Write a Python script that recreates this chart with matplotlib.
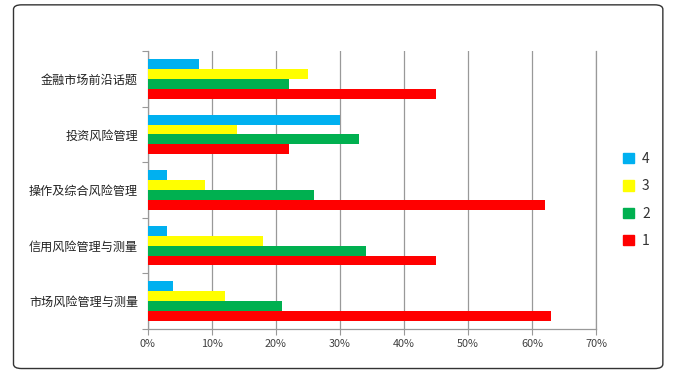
import numpy as np
import matplotlib.pyplot as plt
from matplotlib.patches import FancyBboxPatch, Patch
from matplotlib.ticker import FuncFormatter

plt.rcParams['font.family'] = ['Noto Sans CJK SC', 'DejaVu Sans']

# --- Data ---
categories = ['金融市场前沿话题', '投资风险管理', '操作及综合风险管理',
              '信用风险管理与测量', '市场风险管理与测量']
series_names = ['4', '3', '2', '1']
s4 = [8, 30, 3, 3, 4]
s3 = [25, 14, 9, 18, 12]
s2 = [22, 33, 26, 34, 21]
s1 = [45, 22, 62, 45, 63]
colors = ['#00b0f0', '#ffff00', '#00b050', '#ff0000']
x_ticks = [0, 10, 20, 30, 40, 50, 60, 70]

# --- Plot ---
fig = plt.figure(figsize=(6.75, 3.73), dpi=100)
ax = fig.add_axes([0.219, 0.118, 0.664, 0.745])

n = len(categories)
pos = np.arange(n)
bar_h = 0.178
values = [s4, s3, s2, s1]
for i, (vals, col) in enumerate(zip(values, colors)):
    offset = (i - 1.5) * bar_h
    ax.barh(pos + offset, vals, height=bar_h, color=col, zorder=3)

ax.set_ylim(n - 0.5, -0.5)
ax.set_xlim(0, 70)
ax.set_xticks(x_ticks)
ax.xaxis.set_major_formatter(FuncFormatter(lambda v, p: f'{v:.0f}%'))
ax.tick_params(axis='x', labelsize=7.8, colors='#404040', length=4,
               width=0.8, color='#999999', pad=3)

# category labels centred, ticks at boundaries
ax.set_yticks(pos)
ax.set_yticklabels(categories, fontsize=8.7, color='#222222')
ax.set_yticks(np.arange(n + 1) - 0.5, minor=True)
ax.tick_params(axis='y', which='major', length=0, pad=7)
ax.tick_params(axis='y', which='minor', length=4, width=0.8, color='#999999')

ax.grid(axis='x', color='#999999', linewidth=0.9, zorder=0)
ax.spines['top'].set_visible(False)
for side in ['left', 'bottom', 'right']:
    ax.spines[side].set_color('#999999')
    ax.spines[side].set_linewidth(0.9)

handles = [Patch(color=c, label=s) for c, s in zip(colors, series_names)]
leg = fig.legend(handles=handles, loc='center left',
                 bbox_to_anchor=(0.905, 0.464), frameon=False,
                 fontsize=10, handlelength=0.75, handleheight=0.75,
                 handletextpad=0.6, labelspacing=0.95)
for t in leg.get_texts():
    t.set_color('#333333')

# rounded border around the chart
border = FancyBboxPatch((0.02, 0.012), 0.962, 0.975,
                        boxstyle='round,pad=0,rounding_size=0.012',
                        transform=fig.transFigure, fill=False,
                        edgecolor='#333333', linewidth=1.0)
fig.patches.append(border)

fig.savefig('out.png', dpi=100)
